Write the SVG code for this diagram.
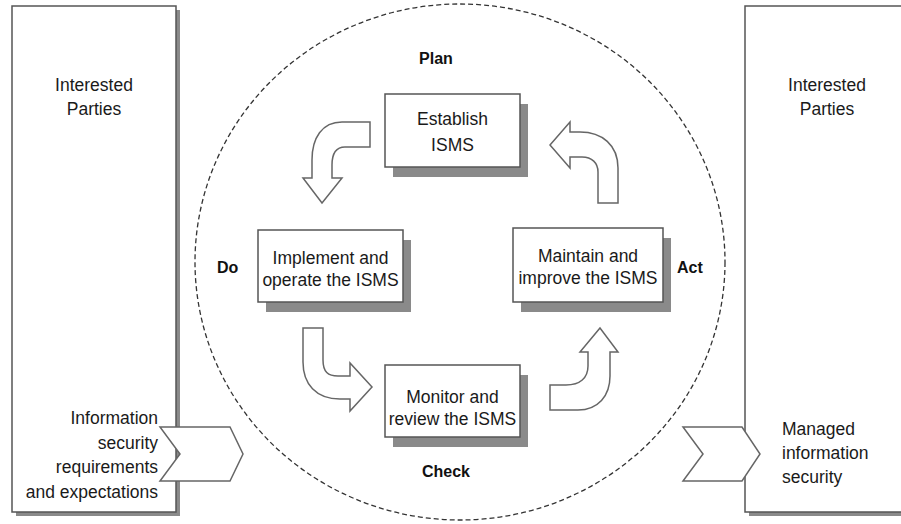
<svg xmlns="http://www.w3.org/2000/svg" width="901" height="524" viewBox="0 0 901 524">
<style>
  .t { font-family: "Liberation Sans", Arial, sans-serif; font-size: 17.5px; fill: #1a1a1a; }
  .b { font-family: "Liberation Sans", Arial, sans-serif; font-size: 16px; font-weight: bold; fill: #111; }
  .box { fill: #fff; stroke: #555; stroke-width: 1.5; }
  .sh { fill: #8a8a8a; }
  .arr { fill: #fff; stroke: #666; stroke-width: 1.5; stroke-linejoin: miter; }
</style>
<rect width="901" height="524" fill="#fff"/>

<g id="cycle">
  <ellipse cx="460" cy="262" rx="265" ry="258" fill="none" stroke="#333" stroke-width="1.3" stroke-dasharray="5,3"/>
</g>

<g id="parties-left">
  <rect class="sh" x="16" y="10" width="164" height="506"/>
  <rect class="box" x="12" y="6" width="164" height="506"/>
  <text class="t" text-anchor="middle" x="94" y="91">Interested</text>
  <text class="t" text-anchor="middle" x="94" y="115">Parties</text>
  <text class="t" text-anchor="end" x="158" y="424">Information</text>
  <text class="t" text-anchor="end" x="158" y="449">security</text>
  <text class="t" text-anchor="end" x="158" y="473">requirements</text>
  <text class="t" text-anchor="end" x="158" y="498">and expectations</text>
</g>

<g id="parties-right">
  <rect class="sh" x="749" y="10" width="170" height="506"/>
  <rect class="box" x="745" y="6" width="170" height="506"/>
  <text class="t" text-anchor="middle" x="827" y="91">Interested</text>
  <text class="t" text-anchor="middle" x="827" y="115">Parties</text>
  <text class="t" x="782" y="435">Managed</text>
  <text class="t" x="782" y="459">information</text>
  <text class="t" x="782" y="483">security</text>
</g>

<g id="plan">
  <rect class="sh" x="393" y="104" width="135" height="73"/>
  <rect class="box" x="385" y="94" width="135" height="73"/>
  <text class="t" text-anchor="middle" x="452.5" y="125">Establish</text>
  <text class="t" text-anchor="middle" x="452.5" y="151">ISMS</text>
  <text class="b" text-anchor="middle" x="436" y="64">Plan</text>
</g>

<g id="do">
  <rect class="sh" x="266" y="240" width="145" height="72"/>
  <rect class="box" x="258" y="230" width="145" height="72"/>
  <text class="t" text-anchor="middle" x="330.5" y="264">Implement and</text>
  <text class="t" text-anchor="middle" x="330.5" y="286">operate the ISMS</text>
  <text class="b" x="217" y="273">Do</text>
</g>

<g id="act">
  <rect class="sh" x="521" y="238" width="150" height="74"/>
  <rect class="box" x="513" y="228" width="150" height="74"/>
  <text class="t" text-anchor="middle" x="588" y="262">Maintain and</text>
  <text class="t" text-anchor="middle" x="588" y="284">improve the ISMS</text>
  <text class="b" x="677" y="273">Act</text>
</g>

<g id="check">
  <rect class="sh" x="393" y="375" width="135" height="72"/>
  <rect class="box" x="385" y="365" width="135" height="72"/>
  <text class="t" text-anchor="middle" x="452.5" y="403">Monitor and</text>
  <text class="t" text-anchor="middle" x="452.5" y="425">review the ISMS</text>
  <text class="b" text-anchor="middle" x="446" y="477">Check</text>
</g>

<g id="connectors">
  <path class="arr" d="M370,122 L342,122 C322,122 312,138 312,160 L312,178 L303,178 L322,203 L342,178 L332,178 L332,165 C332,153 336,147 345,147 L370,147 Z"/>
  <path class="arr" d="M598,203 L618,203 L618,168 C618,145 602,132 580,132 L570,132 L570,122 L550,145 L570,168 L570,157 L582,157 C592,157 598,163 598,172 Z"/>
  <path class="arr" d="M303,328 L323,328 L323,360 C323,372 328,376 338,376 L350,376 L350,363 L372,387 L350,411 L350,399 L340,399 C316,399 303,384 303,362 Z"/>
  <path class="arr" d="M550,385 L566,385 C580,385 588,378 588,366 L588,352 L580,352 L600,328 L618,352 L610,352 L610,376 C610,396 598,410 578,410 L550,410 Z"/>
  <path class="arr" d="M160,427 L230,427 L243,454 L230,481 L160,481 L180,454 Z"/>
  <path class="arr" d="M683,427 L742,427 L760,454 L742,481 L683,481 L703,454 Z"/>
</g>
</svg>
